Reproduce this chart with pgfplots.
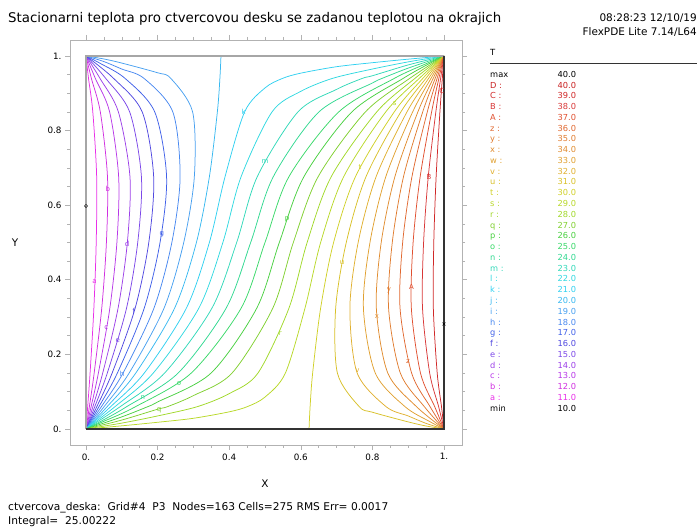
\documentclass[border=0pt]{standalone}
\usepackage{fontspec}
\setmainfont{DejaVu Sans}
\usepackage{pgfplots}
\pgfplotsset{compat=1.18}
\definecolor{lv11}{HTML}{E830E8}
\definecolor{lv12}{HTML}{D030E0}
\definecolor{lv13}{HTML}{B838E8}
\definecolor{lv14}{HTML}{9C40E8}
\definecolor{lv15}{HTML}{7C48E8}
\definecolor{lv16}{HTML}{5048E0}
\definecolor{lv17}{HTML}{4060E8}
\definecolor{lv18}{HTML}{4888F0}
\definecolor{lv19}{HTML}{48A0F0}
\definecolor{lv20}{HTML}{38B8F0}
\definecolor{lv21}{HTML}{30D0F0}
\definecolor{lv22}{HTML}{30D8E0}
\definecolor{lv23}{HTML}{30D8B8}
\definecolor{lv24}{HTML}{30D890}
\definecolor{lv25}{HTML}{38D868}
\definecolor{lv26}{HTML}{48D040}
\definecolor{lv27}{HTML}{80D030}
\definecolor{lv28}{HTML}{A0D828}
\definecolor{lv29}{HTML}{B8D828}
\definecolor{lv30}{HTML}{D0D028}
\definecolor{lv31}{HTML}{D8C028}
\definecolor{lv32}{HTML}{E0B030}
\definecolor{lv33}{HTML}{E0A030}
\definecolor{lv34}{HTML}{E08C30}
\definecolor{lv35}{HTML}{E07C30}
\definecolor{lv36}{HTML}{E06830}
\definecolor{lv37}{HTML}{E05030}
\definecolor{lv38}{HTML}{D83838}
\definecolor{lv39}{HTML}{D02828}
\definecolor{lv40}{HTML}{C82020}
\newcommand{\cont}[2]{\addplot[color=#1, line width=0.75bp, smooth, tension=0.5] coordinates {#2};}
\newcommand{\lbl}[3]{\node[text=#1, inner sep=0pt, font=\fontsize{7}{8}\selectfont] at (axis cs:#2) {#3};}
\begin{document}
\begin{tikzpicture}[x=1bp,y=1bp]
\path[use as bounding box] (0,0) rectangle (699,527);
\begin{axis}[
  at={(70bp,82bp)}, anchor=south west,
  scale only axis, width=392bp, height=405bp,
  xmin=-0.0447, xmax=1.0503, ymin=-0.0429, ymax=1.0429,
  axis line style={draw=gray!60, line width=0.8bp},
  xtick={0,0.2,0.4,0.6,0.8,1}, ytick={0,0.2,0.4,0.6,0.8,1},
  xticklabels={0.,0.2,0.4,0.6,0.8,1.}, yticklabels={0.,0.2,0.4,0.6,0.8,1.},
  minor xtick={0.05,0.1,0.15,0.25,0.3,0.35,0.45,0.5,0.55,0.65,0.7,0.75,0.85,0.9,0.95},
  minor ytick={0.05,0.1,0.15,0.25,0.3,0.35,0.45,0.5,0.55,0.65,0.7,0.75,0.85,0.9,0.95},
  tick align=outside, tick pos=both, xticklabel pos=lower, yticklabel pos=left,
  major tick length=5bp, minor tick length=3bp,
  every tick/.style={draw=gray!60, line width=0.6bp},
  ticklabel style={font=\fontsize{8.8}{10}\selectfont},
]
% contour lines (levels 11..39)
\cont{lv11}{(0,1) (0.007,0.94) (0.019,0.85) (0.0298,0.676) (0.0285,0.5) (0.022,0.324) (0.0114,0.15) (0.0047,0.06) (0,0)}
\cont{lv12}{(0,1) (0.015,0.94) (0.04,0.85) (0.06,0.676) (0.057,0.5) (0.044,0.324) (0.0228,0.15) (0.0094,0.06) (0,0)}
\cont{lv13}{(0,1) (0.026,0.94) (0.066,0.85) (0.0912,0.676) (0.0863,0.5) (0.0666,0.324) (0.0346,0.15) (0.0143,0.06) (0,0)}
\cont{lv14}{(0,1) (0.039,0.94) (0.0905,0.85) (0.1228,0.676) (0.1155,0.5) (0.0896,0.324) (0.0467,0.15) (0.0193,0.06) (0,0)}
\cont{lv15}{(0,1) (0.055,0.94) (0.122,0.85) (0.1548,0.676) (0.1445,0.5) (0.1132,0.324) (0.0595,0.15) (0.0246,0.06) (0,0)}
\cont{lv16}{(0,1) (0.077,0.94) (0.157,0.85) (0.189,0.676) (0.1754,0.5) (0.1373,0.324) (0.073,0.15) (0.0302,0.06) (0,0)}
\cont{lv17}{(0,1) (0.04,0.98) (0.109,0.94) (0.192,0.85) (0.2251,0.676) (0.2068,0.5) (0.1627,0.324) (0.0876,0.15) (0.0363,0.06) (0,0)}
\cont{lv18}{(0,1) (0.05,0.985) (0.1,0.965) (0.162,0.94) (0.2425,0.85) (0.2629,0.676) (0.2398,0.5) (0.1898,0.324) (0.1035,0.15) (0.043,0.06) (0,0)}
\cont{lv19}{(0,1) (0.05,0.992) (0.1,0.981) (0.2,0.955) (0.2368,0.94) (0.2978,0.85) (0.3026,0.676) (0.273,0.5) (0.218,0.324) (0.1205,0.15) (0.0506,0.06) (0,0)}
\cont{lv20}{(0.377,1) (0.374,0.94) (0.3669,0.85) (0.3446,0.676) (0.3084,0.5) (0.2475,0.324) (0.139,0.15) (0.0591,0.06) (0,0)}
\cont{lv21}{(1,1) (0.9,0.9915) (0.8,0.982) (0.7,0.9713) (0.6,0.954) (0.5492,0.94) (0.5,0.9144) (0.443,0.85) (0.3883,0.676) (0.3446,0.5) (0.2804,0.324) (0.1628,0.15) (0.069,0.06) (0,0)}
\cont{lv22}{(1,1) (0.9,0.9842) (0.8,0.965) (0.6886,0.94) (0.6,0.9052) (0.5196,0.85) (0.4331,0.676) (0.3823,0.5) (0.3152,0.324) (0.1879,0.15) (0.0811,0.06) (0,0)}
\cont{lv23}{(1,1) (0.9,0.976) (0.8,0.947) (0.772,0.94) (0.7,0.9105) (0.592,0.85) (0.4782,0.676) (0.4209,0.5) (0.3518,0.324) (0.2196,0.15) (0.0957,0.06) (0,0)}
\cont{lv24}{(1,1) (0.9,0.9675) (0.8272,0.94) (0.8,0.9276) (0.6506,0.85) (0.523,0.676) (0.46,0.5) (0.3915,0.324) (0.2574,0.15) (0.1139,0.06) (0.05,0.025) (0,0)}
\cont{lv25}{(1,1) (0.95,0.9793) (0.8613,0.94) (0.706,0.85) (0.5666,0.676) (0.5,0.5) (0.4334,0.324) (0.294,0.15) (0.1387,0.06) (0.05,0.0207) (0,0)}
\cont{lv26}{(0,0) (0.1,0.0325) (0.1728,0.06) (0.2,0.0724) (0.3494,0.15) (0.477,0.324) (0.54,0.5) (0.6085,0.676) (0.7426,0.85) (0.8861,0.94) (0.95,0.975) (1,1)}
\cont{lv27}{(0,0) (0.1,0.024) (0.2,0.053) (0.228,0.06) (0.3,0.0895) (0.408,0.15) (0.5218,0.324) (0.5791,0.5) (0.6482,0.676) (0.7804,0.85) (0.9043,0.94) (1,1)}
\cont{lv28}{(0,0) (0.1,0.0158) (0.2,0.035) (0.3114,0.06) (0.4,0.0948) (0.4804,0.15) (0.5669,0.324) (0.6177,0.5) (0.6848,0.676) (0.8121,0.85) (0.9189,0.94) (1,1)}
\cont{lv29}{(0,0) (0.1,0.0085) (0.2,0.018) (0.3,0.0287) (0.4,0.046) (0.4508,0.06) (0.5,0.0856) (0.557,0.15) (0.6117,0.324) (0.6554,0.5) (0.7196,0.676) (0.8372,0.85) (0.931,0.94) (1,1)}
\cont{lv30}{(0.623,0) (0.626,0.06) (0.6331,0.15) (0.6554,0.324) (0.6916,0.5) (0.7525,0.676) (0.861,0.85) (0.9409,0.94) (1,1)}
\cont{lv31}{(1,0) (0.95,0.008) (0.9,0.019) (0.8,0.045) (0.7632,0.06) (0.7022,0.15) (0.6974,0.324) (0.727,0.5) (0.782,0.676) (0.8795,0.85) (0.9494,0.94) (1,1)}
\cont{lv32}{(1,0) (0.95,0.015) (0.9,0.035) (0.838,0.06) (0.7575,0.15) (0.7371,0.324) (0.7602,0.5) (0.8102,0.676) (0.8965,0.85) (0.957,0.94) (1,1)}
\cont{lv33}{(1,0) (0.96,0.02) (0.891,0.06) (0.808,0.15) (0.7749,0.324) (0.7932,0.5) (0.8373,0.676) (0.9124,0.85) (0.9637,0.94) (1,1)}
\cont{lv34}{(1,0) (0.923,0.06) (0.843,0.15) (0.811,0.324) (0.8246,0.5) (0.8627,0.676) (0.927,0.85) (0.9698,0.94) (1,1)}
\cont{lv35}{(1,0) (0.945,0.06) (0.878,0.15) (0.8452,0.324) (0.8555,0.5) (0.8868,0.676) (0.9405,0.85) (0.9754,0.94) (1,1)}
\cont{lv36}{(1,0) (0.961,0.06) (0.9095,0.15) (0.8772,0.324) (0.8845,0.5) (0.9104,0.676) (0.9533,0.85) (0.9807,0.94) (1,1)}
\cont{lv37}{(1,0) (0.974,0.06) (0.9343,0.15) (0.9088,0.324) (0.9137,0.5) (0.9334,0.676) (0.9654,0.85) (0.9857,0.94) (1,1)}
\cont{lv38}{(1,0) (0.985,0.06) (0.96,0.15) (0.94,0.324) (0.943,0.5) (0.956,0.676) (0.9772,0.85) (0.9906,0.94) (1,1)}
\cont{lv39}{(1,0) (0.993,0.06) (0.981,0.15) (0.9702,0.324) (0.9715,0.5) (0.978,0.676) (0.9886,0.85) (0.9953,0.94) (1,1)}
% domain boundary
\addplot[draw=gray!70, line width=1.2bp] coordinates {(0,0) (0,1) (1,1)};
\addplot[draw=black!80, line width=1.2bp] coordinates {(0,0) (1,0) (1,1)};
% min / max markers
\addplot[only marks, mark=o, mark size=1.6bp, black] coordinates {(0,0.598)};
\addplot[only marks, mark=x, mark size=2bp, black] coordinates {(1,0.2815)};
% contour labels
\lbl{lv11}{0.024,0.396}{a}
\lbl{lv12}{0.061,0.643}{b}
\lbl{lv13}{0.057,0.273}{c}
\lbl{lv14}{0.115,0.496}{d}
\lbl{lv15}{0.089,0.238}{e}
\lbl{lv16}{0.134,0.316}{f}
\lbl{lv17}{0.212,0.521}{g}
\lbl{lv18}{0.101,0.147}{h}
\lbl{lv21}{0.44,0.851}{k}
\lbl{lv23}{0.5,0.717}{m}
\lbl{lv24}{0.159,0.083}{n}
\lbl{lv25}{0.26,0.123}{o}
\lbl{lv27}{0.204,0.049}{q}
\lbl{lv26}{0.562,0.561}{p}
\lbl{lv28}{0.543,0.255}{r}
\lbl{lv29}{0.862,0.873}{s}
\lbl{lv30}{0.765,0.703}{t}
\lbl{lv31}{0.715,0.445}{u}
\lbl{lv32}{0.758,0.156}{v}
\lbl{lv34}{0.813,0.302}{x}
\lbl{lv35}{0.846,0.373}{y}
\lbl{lv36}{0.899,0.181}{z}
\lbl{lv37}{0.909,0.38}{A}
\lbl{lv38}{0.958,0.676}{B}
\lbl{lv39}{0.994,0.906}{C}
\end{axis}
% axis titles
\node[font=\fontsize{10.5}{12}\selectfont] at (265,43) {X};
\node[font=\fontsize{10.5}{12}\selectfont] at (15,284) {Y};
% header
\node[anchor=base west, font=\fontsize{13.4}{15}\selectfont, inner sep=0] at (8,504) {Stacionarni teplota pro ctvercovou desku se zadanou teplotou na okrajich};
\node[anchor=base east, font=\fontsize{10.5}{12}\selectfont, inner sep=0] at (697,505) {08:28:23 12/10/19};
\node[anchor=base east, font=\fontsize{10.5}{12}\selectfont, inner sep=0] at (697,491) {FlexPDE Lite 7.14/L64};
% legend
\node[anchor=base west, font=\fontsize{8.5}{10}\selectfont, inner sep=0] at (490,471) {T};
\draw[line width=0.7bp, black!80] (490,463.7) -- (697,463.7);
\foreach \i/\lab/\val/\col in {0/max/40.0/black,1/D :/40.0/lv40,2/C :/39.0/lv39,3/B :/38.0/lv38,4/A :/37.0/lv37,5/z :/36.0/lv36,6/y :/35.0/lv35,7/x :/34.0/lv34,8/w :/33.0/lv33,9/v :/32.0/lv32,10/u :/31.0/lv31,11/t :/30.0/lv30,12/s :/29.0/lv29,13/r :/28.0/lv28,14/q :/27.0/lv27,15/p :/26.0/lv26,16/o :/25.0/lv25,17/n :/24.0/lv24,18/m :/23.0/lv23,19/l :/22.0/lv22,20/k :/21.0/lv21,21/j :/20.0/lv20,22/i :/19.0/lv19,23/h :/18.0/lv18,24/g :/17.0/lv17,25/f :/16.0/lv16,26/e :/15.0/lv15,27/d :/14.0/lv14,28/c :/13.0/lv13,29/b :/12.0/lv12,30/a :/11.0/lv11,31/min/10.0/black}{
  \pgfmathsetmacro\yy{527-77.3-10.77*\i}
  \node[anchor=base west, text=\col, font=\fontsize{8.3}{10}\selectfont, inner sep=0] at (490,\yy) {\lab};
  \node[anchor=base west, text=\col, font=\fontsize{8.3}{10}\selectfont, inner sep=0] at (557.5,\yy) {\val};
}
% footer
\node[anchor=base west, font=\fontsize{10.7}{12}\selectfont, inner sep=0] at (8,16) {ctvercova\_deska:\ \ Grid\#4\ \ P3\ \ Nodes=163 Cells=275 RMS Err= 0.0017};
\node[anchor=base west, font=\fontsize{10.7}{12}\selectfont, inner sep=0] at (8,2.2) {Integral=\ \ 25.00222};
\end{tikzpicture}
\end{document}
